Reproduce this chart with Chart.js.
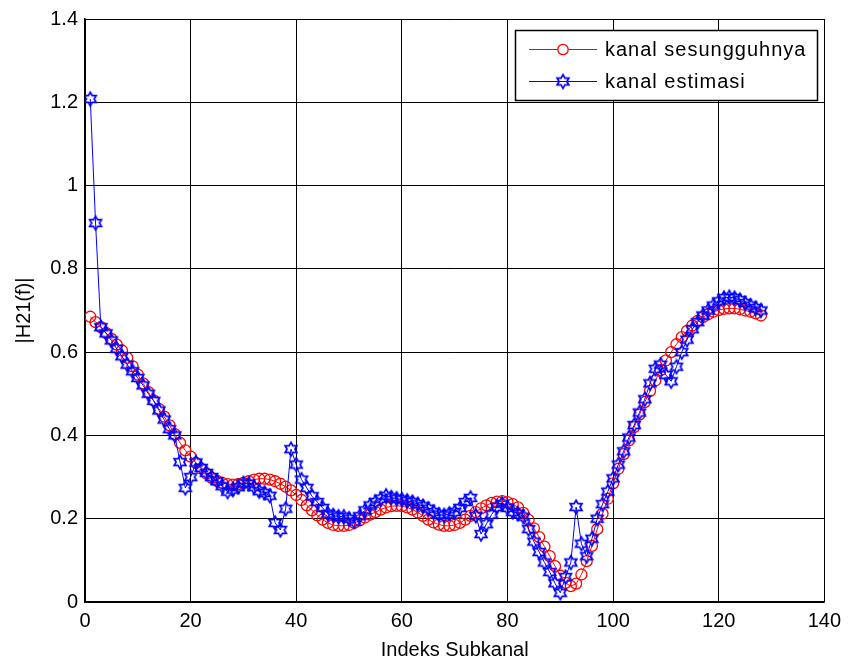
<!DOCTYPE html>
<html><head><meta charset="utf-8">
<script src="https://cdn.jsdelivr.net/npm/chart.js@4.4.1/dist/chart.umd.min.js"></script>
<style>html,body{margin:0;padding:0;background:#fff;}#wrap{width:848px;height:664px;}</style>
</head><body><div id="wrap"><canvas id="c" width="848" height="664"></canvas></div>
<script>
const subkanal = [1,2,3,4,5,6,7,8,9,10,11,12,13,14,15,16,17,18,19,20,21,22,23,24,25,26,27,28,29,30,31,32,33,34,35,36,37,38,39,40,41,42,43,44,45,46,47,48,49,50,51,52,53,54,55,56,57,58,59,60,61,62,63,64,65,66,67,68,69,70,71,72,73,74,75,76,77,78,79,80,81,82,83,84,85,86,87,88,89,90,91,92,93,94,95,96,97,98,99,100,101,102,103,104,105,106,107,108,109,110,111,112,113,114,115,116,117,118,119,120,121,122,123,124,125,126,127,128];
const kanalSesungguhnya = [0.685,0.672,0.660,0.646,0.632,0.618,0.604,0.586,0.566,0.546,0.525,0.504,0.484,0.464,0.445,0.424,0.403,0.382,0.364,0.349,0.334,0.320,0.308,0.298,0.291,0.286,0.283,0.282,0.283,0.286,0.290,0.294,0.296,0.296,0.294,0.290,0.284,0.277,0.268,0.257,0.245,0.232,0.220,0.208,0.198,0.190,0.185,0.183,0.183,0.185,0.190,0.196,0.203,0.210,0.216,0.222,0.227,0.230,0.231,0.230,0.227,0.222,0.215,0.207,0.198,0.191,0.186,0.183,0.183,0.185,0.190,0.198,0.207,0.216,0.225,0.232,0.238,0.241,0.242,0.240,0.235,0.227,0.214,0.197,0.177,0.156,0.133,0.110,0.086,0.063,0.046,0.038,0.044,0.066,0.098,0.135,0.175,0.212,0.248,0.285,0.320,0.355,0.388,0.420,0.450,0.480,0.507,0.532,0.557,0.580,0.600,0.619,0.636,0.651,0.664,0.675,0.684,0.691,0.697,0.701,0.704,0.705,0.705,0.703,0.700,0.697,0.693,0.688];
const kanalEstimasi = [1.208,0.910,0.660,0.645,0.628,0.608,0.590,0.570,0.554,0.538,0.520,0.500,0.483,0.460,0.438,0.415,0.400,0.336,0.274,0.300,0.335,0.322,0.310,0.300,0.290,0.278,0.265,0.270,0.276,0.285,0.284,0.276,0.266,0.262,0.255,0.190,0.173,0.224,0.367,0.330,0.294,0.274,0.254,0.240,0.226,0.212,0.208,0.205,0.205,0.200,0.193,0.206,0.220,0.232,0.240,0.248,0.255,0.251,0.248,0.246,0.243,0.240,0.235,0.230,0.224,0.216,0.210,0.208,0.212,0.216,0.226,0.240,0.250,0.207,0.163,0.187,0.210,0.228,0.236,0.226,0.216,0.212,0.205,0.175,0.145,0.120,0.095,0.072,0.045,0.022,0.060,0.095,0.228,0.140,0.110,0.152,0.200,0.235,0.265,0.297,0.330,0.362,0.395,0.425,0.455,0.487,0.525,0.560,0.570,0.545,0.530,0.565,0.600,0.630,0.655,0.672,0.688,0.700,0.712,0.722,0.730,0.732,0.730,0.725,0.718,0.712,0.706,0.700];
const xTicks = [0,20,40,60,80,100,120,140];
const yTicks = [0,0.2,0.4,0.6,0.8,1,1.2,1.4];
const seriesNames = ['kanal sesungguhnya','kanal estimasi'];
const axisTitles = {x:'Indeks Subkanal', y:'|H21(f)|'};

const FONT = "'Liberation Sans', Arial, Helvetica, sans-serif";

function hexagram(color){
  const c = document.createElement('canvas');
  c.width = 18; c.height = 18;
  const g = c.getContext('2d');
  const R = 6.8, r = R/Math.sqrt(3);
  g.beginPath();
  for(let k=0;k<12;k++){
    const a = (-90 + k*30)*Math.PI/180;
    const rad = (k%2===0)?R:r;
    const px = 9 + rad*Math.cos(a), py = 9 + rad*Math.sin(a);
    if(k===0) g.moveTo(px,py); else g.lineTo(px,py);
  }
  g.closePath();
  g.strokeStyle = color; g.lineWidth = 1.7; g.stroke();
  return c;
}
const starImg = hexagram('#0000ff');

const legendPlugin = {
  id:'matlabLegend',
  afterDraw(chart){
    const ctx = chart.ctx;
    ctx.save();
    const bx=515, by=30, bw=302, bh=70;
    ctx.fillStyle='#fff'; ctx.fillRect(bx,by,bw,bh);
    ctx.strokeStyle='#000'; ctx.lineWidth=1.5; ctx.strokeRect(bx+0.5,by+0.5,bw,bh);
    const rows=[49,81];
    const colors=['#ff0000','#0000ff'];
    for(let i=0;i<2;i++){
      const y=rows[i];
      ctx.strokeStyle=colors[i]; ctx.lineWidth=1;
      ctx.beginPath(); ctx.moveTo(529,y+0.5); ctx.lineTo(597,y+0.5); ctx.stroke();
      if(i===0){
        ctx.lineWidth=1.3;
        ctx.beginPath(); ctx.arc(563,y+0.5,5.2,0,Math.PI*2); ctx.fillStyle='#fff'; ctx.fill(); ctx.stroke();
      } else {
        ctx.drawImage(starImg,563-9,y+0.5-9);
      }
      ctx.fillStyle='#000';
      ctx.font='20px '+FONT;
      try{ ctx.letterSpacing='1px'; }catch(e){}
      ctx.textBaseline='middle'; ctx.textAlign='left';
      ctx.fillText(seriesNames[i],605,y+1);
    }
    ctx.restore();
  }
};

new Chart(document.getElementById('c'),{
  type:'line',
  data:{
    datasets:[
      {label:seriesNames[0], data:subkanal.map((x,i)=>({x:x,y:kanalSesungguhnya[i]})),
       borderColor:'#ff0000', borderWidth:1, pointStyle:'circle', pointRadius:5.5,
       pointBorderColor:'#ff0000', pointBackgroundColor:'rgba(0,0,0,0)', pointBorderWidth:1.3,
       tension:0, order:2},
      {label:seriesNames[1], data:subkanal.map((x,i)=>({x:x,y:kanalEstimasi[i]})),
       borderColor:'#0000ff', borderWidth:1, pointStyle:starImg, pointRadius:7,
       tension:0, order:1}
    ]
  },
  options:{
    responsive:false, animation:false, devicePixelRatio:1,
    layout:{padding:{top:16,right:22,left:0,bottom:0}},
    plugins:{legend:{display:false}, tooltip:{enabled:false}},
    scales:{
      x:{type:'linear', min:0, max:140,
        afterBuildTicks:s=>{s.ticks=xTicks.map(v=>({value:v}));},
        afterFit:s=>{s.height=62;},
        ticks:{color:'#000', font:{family:FONT,size:20}, padding:7, maxRotation:0, autoSkip:false},
        grid:{color:'#000', lineWidth:1, drawTicks:false},
        border:{color:'#000', width:1.5},
        title:{display:true, text:axisTitles.x, color:'#000', font:{family:FONT,size:20}, padding:{top:0,bottom:2}}
      },
      y:{min:0, max:1.4,
        afterBuildTicks:s=>{s.ticks=yTicks.map(v=>({value:v}));},
        afterFit:s=>{s.width=85;},
        ticks:{color:'#000', font:{family:FONT,size:20}, padding:7, autoSkip:false,
          callback:v=>String(Math.round(v*10)/10)},
        grid:{color:'#000', lineWidth:1, drawTicks:false},
        border:{color:'#000', width:1.5},
        title:{display:true, text:axisTitles.y, color:'#000', font:{family:FONT,size:20}, padding:{top:12,bottom:0}}
      }
    }
  },
  plugins:[legendPlugin]
});
</script></body></html>
